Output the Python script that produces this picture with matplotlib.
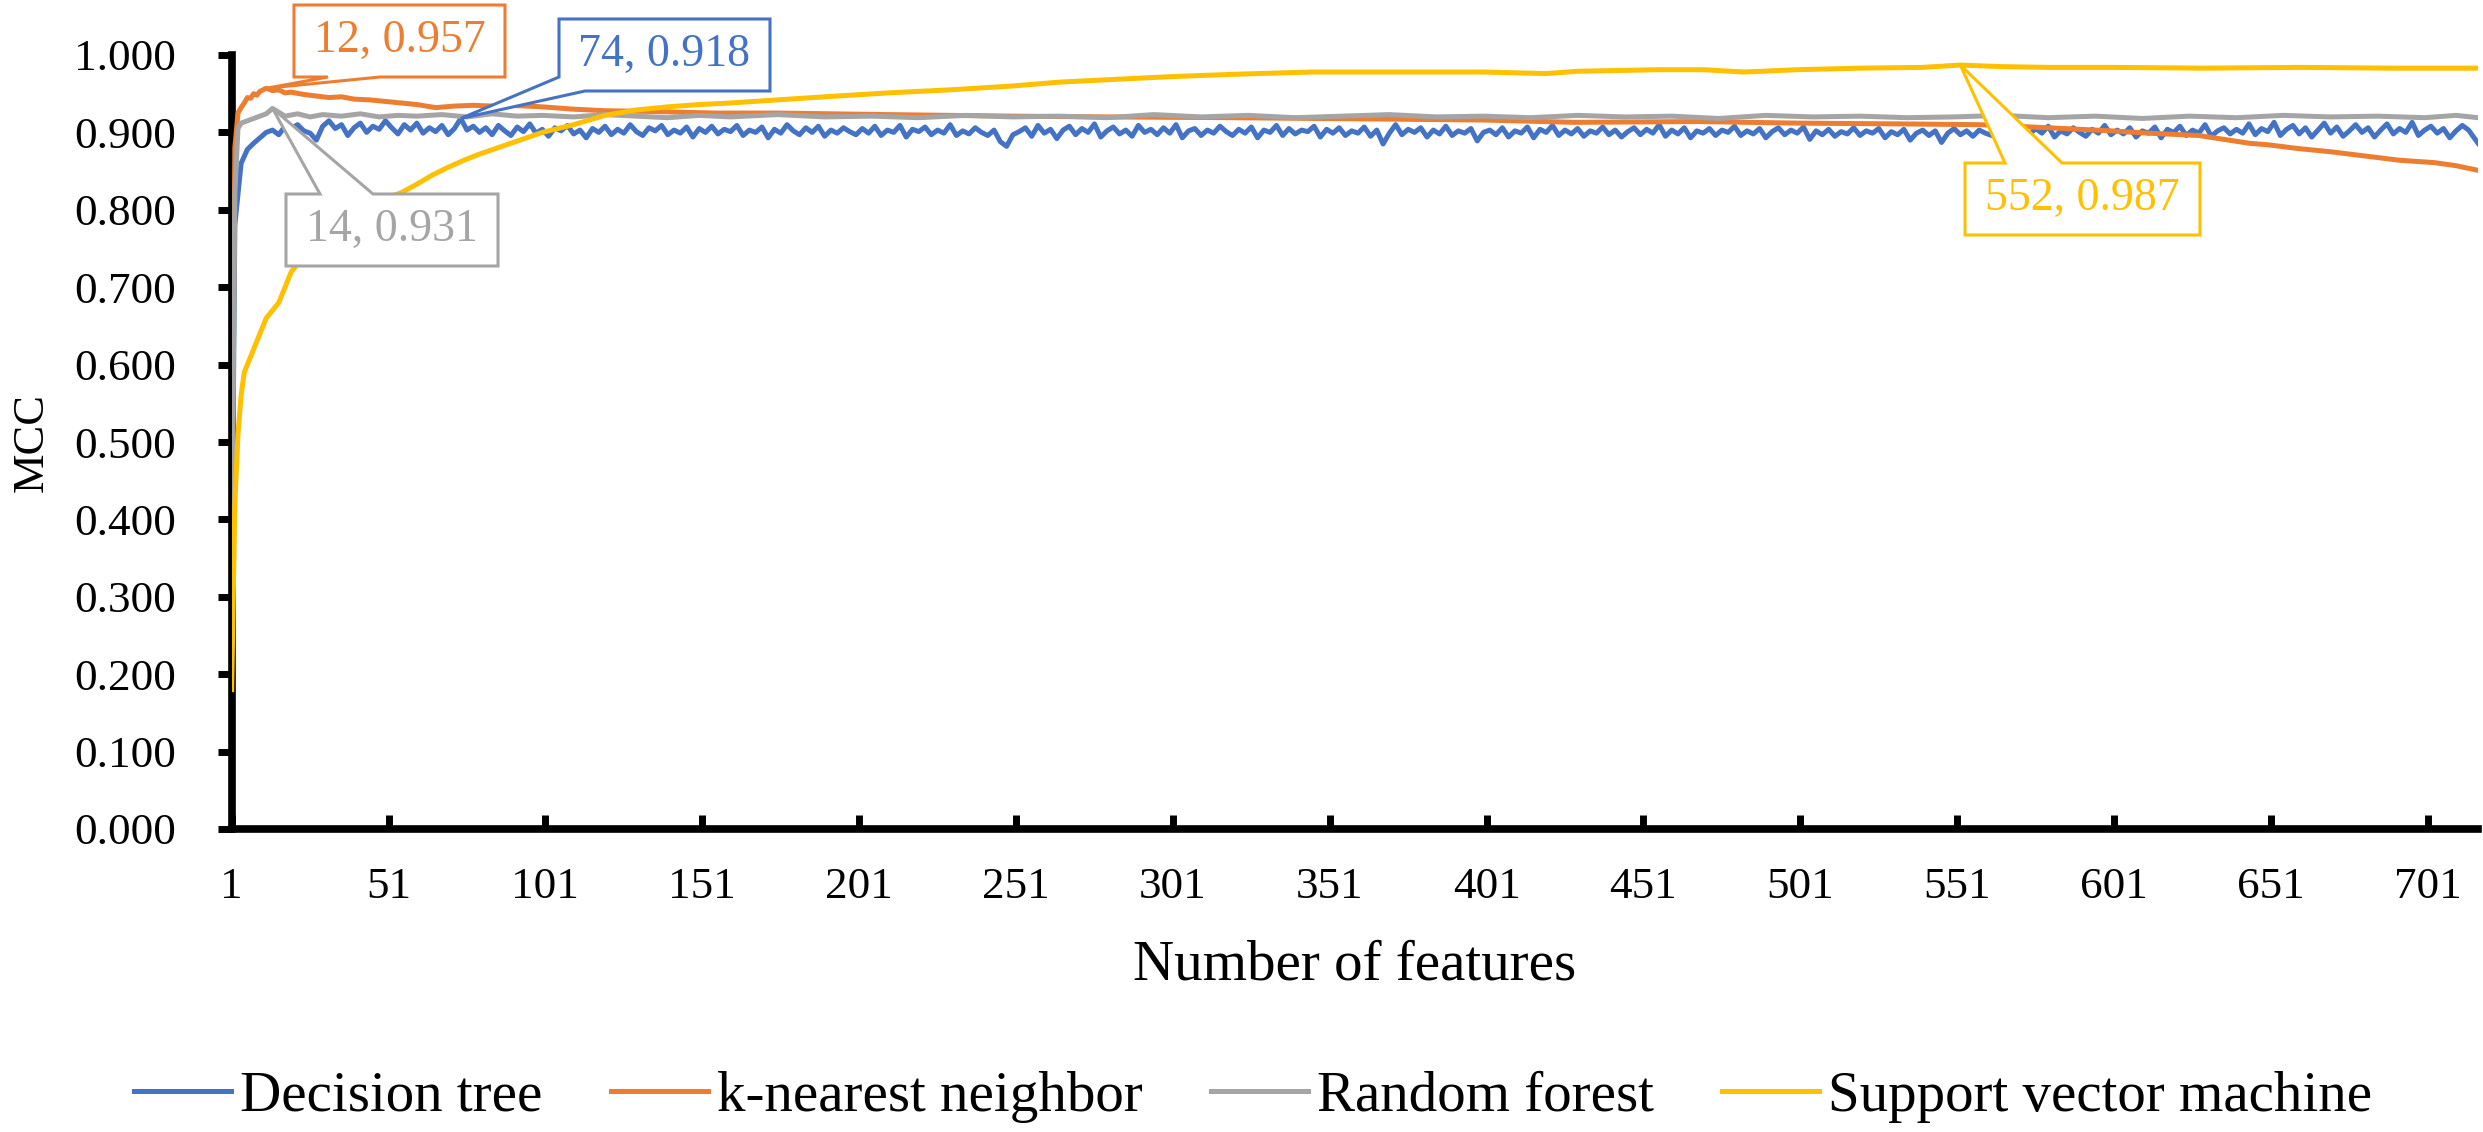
import numpy as np
import matplotlib
matplotlib.use("Agg")
import matplotlib.pyplot as plt
from matplotlib.patches import Polygon

plt.rcParams["font.family"] = "Liberation Serif"

BLUE = "#4472C4"; ORANGE = "#ED7D31"; GRAY = "#A5A5A5"; GOLD = "#FFC000"

# ---- data ----
dt_x = [1] + list(range(2, 715, 2)) + [717]
dt_y = [0.300,
    0.780, 0.860, 0.878, 0.886, 0.893, 0.900, 0.903, 0.897, 0.908, 0.905, 0.910, 0.902, 0.899, 0.890, 0.908, 0.915, 0.905, 0.910, 0.896, 0.906,
    0.912, 0.900, 0.908, 0.904, 0.915, 0.906, 0.898, 0.910, 0.903, 0.912, 0.899, 0.906, 0.901, 0.909, 0.897, 0.905, 0.918, 0.903, 0.908, 0.900,
    0.906, 0.897, 0.909, 0.902, 0.896, 0.907, 0.901, 0.911, 0.899, 0.904, 0.895, 0.906, 0.902, 0.909, 0.898, 0.903, 0.893, 0.905, 0.900, 0.908,
    0.897, 0.904, 0.899, 0.910, 0.901, 0.896, 0.906, 0.902, 0.909, 0.897, 0.903, 0.899, 0.907, 0.894, 0.905, 0.900, 0.908, 0.898, 0.904, 0.901,
    0.909, 0.896, 0.903, 0.900, 0.907, 0.893, 0.904, 0.899, 0.910, 0.902, 0.897, 0.906, 0.900, 0.908, 0.895, 0.903, 0.899, 0.906, 0.901, 0.897,
    0.905, 0.899, 0.908, 0.896, 0.903, 0.900, 0.909, 0.894, 0.904, 0.901, 0.907, 0.897, 0.903, 0.899, 0.910, 0.896, 0.902, 0.898, 0.906, 0.900,
    0.896, 0.903, 0.888, 0.882, 0.897, 0.901, 0.906, 0.895, 0.909, 0.899, 0.904, 0.892, 0.903, 0.908, 0.897, 0.905, 0.900, 0.911, 0.894, 0.902,
    0.907, 0.898, 0.903, 0.895, 0.909, 0.900, 0.904, 0.897, 0.906, 0.899, 0.910, 0.893, 0.902, 0.905, 0.896, 0.903, 0.899, 0.908, 0.901, 0.896,
    0.904, 0.899, 0.907, 0.893, 0.903, 0.900, 0.909, 0.896, 0.905, 0.898, 0.903, 0.901, 0.908, 0.894, 0.904, 0.899, 0.906, 0.896, 0.902, 0.899,
    0.907, 0.895, 0.903, 0.885, 0.899, 0.910, 0.897, 0.904, 0.900, 0.906, 0.894, 0.903, 0.898, 0.908, 0.896, 0.902, 0.899, 0.905, 0.889, 0.900,
    0.903, 0.897, 0.906, 0.894, 0.902, 0.899, 0.907, 0.893, 0.904, 0.900, 0.909, 0.896, 0.903, 0.898, 0.905, 0.895, 0.902, 0.899, 0.907, 0.897,
    0.903, 0.894, 0.901, 0.906, 0.897, 0.904, 0.899, 0.910, 0.895, 0.903, 0.898, 0.906, 0.893, 0.902, 0.899, 0.905, 0.896, 0.903, 0.900, 0.908,
    0.896, 0.902, 0.898, 0.905, 0.893, 0.901, 0.906, 0.897, 0.903, 0.899, 0.907, 0.891, 0.902, 0.897, 0.904, 0.895, 0.901, 0.898, 0.906, 0.896,
    0.902, 0.899, 0.905, 0.893, 0.901, 0.897, 0.904, 0.890, 0.899, 0.903, 0.896, 0.902, 0.887, 0.899, 0.905, 0.897, 0.902, 0.895, 0.903, 0.899,
    0.896, 0.904, 0.898, 0.906, 0.893, 0.901, 0.897, 0.905, 0.899, 0.908, 0.894, 0.902, 0.898, 0.906, 0.900, 0.895, 0.904, 0.899, 0.909, 0.897,
    0.903, 0.898, 0.906, 0.894, 0.902, 0.899, 0.907, 0.893, 0.904, 0.900, 0.908, 0.896, 0.903, 0.899, 0.910, 0.895, 0.902, 0.906, 0.898, 0.904,
    0.899, 0.911, 0.897, 0.905, 0.901, 0.913, 0.896, 0.904, 0.909, 0.898, 0.906, 0.894, 0.903, 0.912, 0.899, 0.907, 0.895, 0.902, 0.910, 0.900,
    0.906, 0.894, 0.903, 0.911, 0.898, 0.905, 0.900, 0.913, 0.896, 0.903, 0.908, 0.899, 0.905, 0.893, 0.902, 0.909, 0.903,
    0.886]

knn_x = [1, 2, 3, 4, 5, 6, 7, 8, 9, 10, 12, 14, 16, 18, 20, 24, 28, 32, 36, 40,
         45, 50, 55, 60, 66, 72, 78, 84, 90, 100, 110, 120, 135, 155, 175, 192, 210, 230, 250, 280,
         320, 374, 400, 429, 469, 500, 532, 558, 580, 600, 612, 628, 644, 650, 660, 670, 676, 692, 703, 710, 717]
knn_y = [0.400, 0.880, 0.925, 0.932, 0.938, 0.945, 0.944, 0.950, 0.948, 0.953,
         0.957, 0.954, 0.955, 0.951, 0.952, 0.949, 0.947, 0.945, 0.946, 0.943,
         0.942, 0.940, 0.938, 0.936, 0.932, 0.934, 0.935, 0.934, 0.935, 0.933,
         0.930, 0.928, 0.927, 0.925, 0.925, 0.924, 0.923, 0.922, 0.921, 0.920,
         0.919, 0.917, 0.916, 0.913, 0.914, 0.912, 0.911, 0.910, 0.906, 0.902,
         0.899, 0.896, 0.886, 0.884, 0.879, 0.875, 0.872, 0.864, 0.861, 0.857, 0.851]

rf_x = [1, 2, 3, 4, 6, 8, 10, 12, 14, 16, 18, 22, 26, 30, 36, 42, 48, 54, 60, 68,
        76, 84, 92, 100, 110, 120, 130, 140, 150, 160, 175, 190, 205, 220, 235, 250, 265, 280, 295, 310,
        325, 340, 355, 370, 385, 400, 415, 430, 445, 460, 475, 490, 505, 520, 535, 550, 565, 580, 595, 610,
        625, 640, 655, 670, 685, 700, 710, 717]
rf_y = [0.350, 0.820, 0.905, 0.912, 0.915, 0.918, 0.921, 0.924, 0.931, 0.926,
        0.921, 0.924, 0.920, 0.923, 0.921, 0.924, 0.920, 0.922, 0.921, 0.923,
        0.920, 0.924, 0.921, 0.922, 0.920, 0.923, 0.921, 0.919, 0.922, 0.920,
        0.923, 0.920, 0.921, 0.919, 0.922, 0.920, 0.921, 0.919, 0.923, 0.920,
        0.922, 0.919, 0.921, 0.923, 0.920, 0.921, 0.919, 0.922, 0.920, 0.921,
        0.918, 0.922, 0.920, 0.921, 0.919, 0.920, 0.922, 0.919, 0.921, 0.918,
        0.921, 0.919, 0.922, 0.920, 0.921, 0.919, 0.922, 0.919]

svm_x = [1, 2, 3, 4, 5, 6, 8, 10, 12, 14, 16, 18, 20, 22, 25, 30, 35, 40, 45, 50,
         55, 60, 65, 70, 75, 80, 85, 90, 95, 100, 105, 110, 115, 120, 130, 140, 150, 160, 175, 190,
         210, 230, 250, 265, 280, 300, 320, 345, 370, 400, 420, 430, 456, 470, 483, 500, 520, 540, 552, 565,
         580, 600, 630, 660, 690, 717]
svm_y = [0.180, 0.420, 0.510, 0.560, 0.590, 0.600, 0.620, 0.640, 0.660, 0.670,
         0.680, 0.700, 0.720, 0.730, 0.760, 0.780, 0.790, 0.800, 0.810, 0.815,
         0.822, 0.833, 0.845, 0.855, 0.864, 0.872, 0.879, 0.886, 0.893, 0.900,
         0.905, 0.910, 0.916, 0.922, 0.929, 0.933, 0.936, 0.938, 0.942, 0.946,
         0.951, 0.955, 0.960, 0.965, 0.968, 0.972, 0.975, 0.978, 0.978, 0.978,
         0.976, 0.979, 0.981, 0.981, 0.978, 0.981, 0.983, 0.984, 0.987, 0.985,
         0.984, 0.984, 0.983, 0.984, 0.983, 0.983]

series = [("Decision tree", dt_x, dt_y, BLUE),
          ("k-nearest neighbor", knn_x, knn_y, ORANGE),
          ("Random forest", rf_x, rf_y, GRAY),
          ("Support vector machine", svm_x, svm_y, GOLD)]

# best points: (feature, MCC, colour, box in px from top-left, wedge base, wedge edge)
callouts = [
    (12, 0.957, ORANGE, (294, 5, 505, 77), (328, 380), "bottom"),
    (74, 0.918, BLUE, (559, 19, 770, 91), (77, 585), "leftbottom"),
    (14, 0.931, GRAY, (286, 194, 498, 266), (320, 373), "top"),
    (552, 0.987, GOLD, (1965, 163, 2200, 235), (2005, 2062), "top"),
]

W, H = 2483, 1132
fig = plt.figure(figsize=(W / 100, H / 100), dpi=100)
ax = fig.add_axes([231.7 / W, 1 - 829 / H, (2478 - 231.7) / W, (829 - 55) / H])

for name, xs, ys, col in series:
    ax.plot(xs, ys, color=col, lw=3.6, label=name, solid_joinstyle="round", zorder=3)

ax.set_xlim(1, 717); ax.set_ylim(0, 1)
ax.set_xticks(np.arange(1, 702, 50))
ax.set_yticks(np.arange(0, 1.01, 0.1))
ax.set_yticklabels([f"{v:.3f}" for v in np.arange(0, 1.01, 0.1)])
for s in ["top", "right"]:
    ax.spines[s].set_visible(False)
for s in ["left", "bottom"]:
    ax.spines[s].set_linewidth(5.5)
ax.tick_params(axis="y", direction="out", length=10, width=5, pad=30, labelsize=32.5)
ax.tick_params(axis="x", direction="in", length=10, width=5, pad=27, labelsize=32.5)
ax.set_xlabel("Number of features", fontsize=41, labelpad=24)
ax.set_ylabel("MCC", fontsize=32)
ax.yaxis.set_label_coords(-0.080, 0.5)

def fig_frac(px, py):
    return (px / W, 1 - py / H)

inv = fig.transFigure.inverted()
for fx, fy, col, (x0, y0, x1, y1), (a, b), side in callouts:
    tip = inv.transform(ax.transData.transform((fx, fy)))
    if side == "bottom":
        pts = [(x0, y0), (x1, y0), (x1, y1), (b, y1), None, (a, y1), (x0, y1)]
    elif side == "top":
        pts = [(x0, y0), (a, y0), None, (b, y0), (x1, y0), (x1, y1), (x0, y1)]
    else:  # wedge from left edge to bottom edge
        pts = [(x0, y0), (x1, y0), (x1, y1), (b, y1), None, (x0, a)]
    verts = [tuple(tip) if p is None else fig_frac(*p) for p in pts]
    ax.add_patch(Polygon(verts, closed=True, transform=fig.transFigure, fc="white",
                         ec=col, lw=2.2, zorder=5, clip_on=False, joinstyle="miter"))
    cx, cy = fig_frac((x0 + x1) / 2, (y0 + y1) / 2)
    fig.text(cx, cy, f"{fx}, {fy:.3f}", color=col, fontsize=33, ha="center", va="center", zorder=6)

fig.legend(loc="center", bbox_to_anchor=(0.5047, 0.031), ncol=4, frameon=False, fontsize=41,
           handlelength=1.7, handletextpad=0.16, columnspacing=1.2)

fig.savefig("out.png", dpi=100, facecolor="white")
